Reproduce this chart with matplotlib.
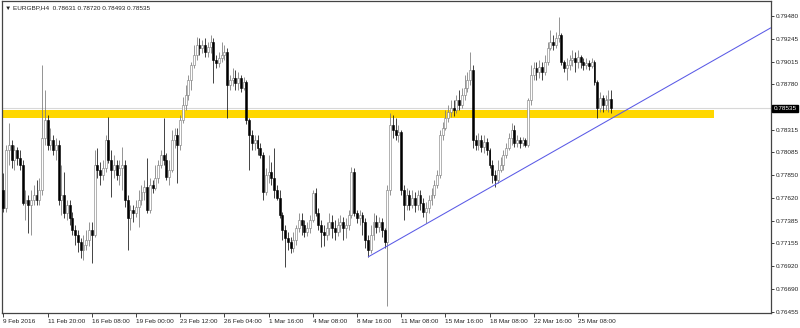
import matplotlib
matplotlib.use("Agg")
import matplotlib.pyplot as plt
import numpy as np

# EURGBP H4 candles (open of each bar = previous close)
first_open = 0.77700
closes = [
    0.77516, 0.78110, 0.78161, 0.78007, 0.78110, 0.78028, 0.77956, 0.77567, 0.77598, 0.77547,
    0.77598, 0.77649, 0.77598, 0.77700, 0.78232, 0.78416, 0.78161, 0.78212, 0.78110, 0.78161,
    0.77598, 0.77649, 0.77465, 0.77547, 0.77414, 0.77291, 0.77240, 0.77168, 0.77087, 0.77138,
    0.77189, 0.77291, 0.77240, 0.77956, 0.77905, 0.77854, 0.77925, 0.78212, 0.78007, 0.77905,
    0.77956, 0.77854, 0.77925, 0.77956, 0.77598, 0.77414, 0.77496, 0.77465, 0.77526, 0.77598,
    0.77680, 0.77731, 0.77496, 0.77751, 0.77721, 0.77823, 0.77956, 0.78058, 0.78007, 0.77833,
    0.77905, 0.78212, 0.78263, 0.78161, 0.78416, 0.78570, 0.78672, 0.78826, 0.78979, 0.79081,
    0.79184, 0.79153, 0.79184, 0.79112, 0.79163, 0.79214, 0.79030, 0.78999, 0.79051, 0.79081,
    0.79112, 0.78774, 0.78826, 0.78846, 0.78795, 0.78846, 0.78744, 0.78805, 0.78416, 0.78263,
    0.78181, 0.78212, 0.78130, 0.78058, 0.77680, 0.77854, 0.77884, 0.77823, 0.77700, 0.77619,
    0.77445, 0.77291, 0.77209, 0.77168, 0.77107, 0.77189, 0.77312, 0.77393, 0.77342, 0.77271,
    0.77312, 0.77393, 0.77670, 0.77465, 0.77342, 0.77271, 0.77240, 0.77312, 0.77373, 0.77312,
    0.77271, 0.77342, 0.77373, 0.77312, 0.77342, 0.77445, 0.77884, 0.77465, 0.77414, 0.77445,
    0.77373, 0.77189, 0.77087, 0.77240, 0.77373, 0.77322, 0.77373, 0.77291, 0.77168, 0.77700,
    0.78365, 0.78314, 0.78263, 0.78294, 0.77700, 0.77547, 0.77649, 0.77547, 0.77619, 0.77547,
    0.77649, 0.77567, 0.77475, 0.77516, 0.77598, 0.77649, 0.77751, 0.77854, 0.78263, 0.78335,
    0.78437, 0.78498, 0.78539, 0.78519, 0.78621, 0.78570, 0.78672, 0.78744, 0.78826, 0.78928,
    0.78212, 0.78161, 0.78212, 0.78140, 0.78191, 0.78110, 0.77956, 0.77854, 0.77803, 0.77905,
    0.77956, 0.78058, 0.78130, 0.78232, 0.78314, 0.78181, 0.78212, 0.78181, 0.78212, 0.78161,
    0.78621, 0.78877, 0.78948, 0.78907, 0.78959, 0.78907, 0.79010, 0.79153, 0.79214, 0.79184,
    0.79255, 0.79286, 0.79010, 0.78948, 0.78979, 0.79030, 0.79051, 0.79010, 0.79061, 0.79010,
    0.78979, 0.78999, 0.78969, 0.79010, 0.78805, 0.78539, 0.78641, 0.78570, 0.78621, 0.78631,
    0.78535,
]
highs = [
    0.77874, 0.78161, 0.78386, 0.78212, 0.78161, 0.78140, 0.78110, 0.78007, 0.77700, 0.77649,
    0.77700, 0.77751, 0.77803, 0.77823, 0.78979, 0.78723, 0.78468, 0.78335, 0.78263, 0.78232,
    0.78212, 0.77956, 0.77884, 0.77598, 0.77598, 0.77475, 0.77342, 0.77291, 0.77209, 0.77240,
    0.77291, 0.77373, 0.77373, 0.78110, 0.78130, 0.77987, 0.78007, 0.78263, 0.78447, 0.78110,
    0.78058, 0.78007, 0.78007, 0.78140, 0.78007, 0.77649, 0.77547, 0.77547, 0.77598, 0.77700,
    0.77751, 0.77803, 0.78028, 0.77823, 0.77803, 0.77956, 0.78007, 0.78110, 0.78437, 0.78079,
    0.78007, 0.78314, 0.78335, 0.78335, 0.78468, 0.78652, 0.78774, 0.78877, 0.79010, 0.79184,
    0.79266, 0.79255, 0.79235, 0.79255, 0.79214, 0.79286, 0.79255, 0.79081, 0.79112, 0.79214,
    0.79184, 0.79153, 0.78877, 0.78948, 0.78928, 0.78907, 0.78877, 0.78856, 0.78826, 0.78437,
    0.78314, 0.78263, 0.78263, 0.78181, 0.78089, 0.77925, 0.78058, 0.77987, 0.78130, 0.77751,
    0.77700, 0.77475, 0.77342, 0.77271, 0.77220, 0.77271, 0.77342, 0.77465, 0.77465, 0.77393,
    0.77373, 0.77445, 0.77700, 0.77721, 0.77516, 0.77393, 0.77342, 0.77373, 0.77465, 0.77445,
    0.77393, 0.77414, 0.77445, 0.77424, 0.77414, 0.77496, 0.77936, 0.77925, 0.77496, 0.77496,
    0.77475, 0.77414, 0.77240, 0.77342, 0.77465, 0.77445, 0.77424, 0.77414, 0.77312, 0.77751,
    0.78488, 0.78468, 0.78437, 0.78365, 0.78314, 0.77751, 0.77721, 0.77700, 0.77700, 0.77680,
    0.77700, 0.77700, 0.77619, 0.77578, 0.77649, 0.77721, 0.77803, 0.77905, 0.78314, 0.78396,
    0.78519, 0.78570, 0.78621, 0.78621, 0.78672, 0.78723, 0.78744, 0.78877, 0.78907, 0.79112,
    0.78979, 0.78263, 0.78283, 0.78263, 0.78263, 0.78232, 0.78130, 0.78007, 0.77905, 0.78007,
    0.78038, 0.78110, 0.78181, 0.78283, 0.78386, 0.78365, 0.78263, 0.78243, 0.78243, 0.78232,
    0.78641, 0.78979, 0.79010, 0.79010, 0.79030, 0.79010, 0.79081, 0.79214, 0.79337, 0.79286,
    0.79317, 0.79470, 0.79306, 0.79030, 0.79051, 0.79081, 0.79133, 0.79112, 0.79133, 0.79081,
    0.79051, 0.79051, 0.79030, 0.79051, 0.79030, 0.78826, 0.78703, 0.78672, 0.78672, 0.78723,
    0.78720,
]
lows = [
    0.77475, 0.77475, 0.77956, 0.77925, 0.77905, 0.77956, 0.77905, 0.77547, 0.77393, 0.77260,
    0.77240, 0.77547, 0.77547, 0.77547, 0.77649, 0.78161, 0.78110, 0.78110, 0.78058, 0.78007,
    0.77547, 0.77445, 0.77414, 0.77393, 0.77342, 0.77240, 0.77138, 0.77066, 0.77005, 0.76984,
    0.77087, 0.77127, 0.76954, 0.77220, 0.77823, 0.77751, 0.77803, 0.77884, 0.77977, 0.77629,
    0.77823, 0.77803, 0.77751, 0.77700, 0.77526, 0.77087, 0.77291, 0.77373, 0.77424, 0.77322,
    0.77547, 0.77598, 0.77465, 0.77465, 0.77670, 0.77700, 0.77772, 0.77925, 0.77956, 0.77803,
    0.77751, 0.77884, 0.78130, 0.77772, 0.78110, 0.78386, 0.78519, 0.78621, 0.78723, 0.78948,
    0.79030, 0.79081, 0.79102, 0.79061, 0.79061, 0.79102, 0.78795, 0.78948, 0.78959, 0.79010,
    0.79030, 0.78437, 0.78723, 0.78764, 0.78723, 0.78723, 0.78703, 0.78723, 0.78375, 0.77905,
    0.78110, 0.78110, 0.78058, 0.78028, 0.77598, 0.77649, 0.77772, 0.77751, 0.77619, 0.77598,
    0.77414, 0.77189, 0.76913, 0.77087, 0.77056, 0.77066, 0.77138, 0.77271, 0.77240, 0.77220,
    0.77230, 0.77260, 0.77373, 0.77434, 0.77291, 0.77117, 0.77127, 0.77189, 0.77240, 0.77209,
    0.77189, 0.77230, 0.77271, 0.77189, 0.77209, 0.77291, 0.77414, 0.77434, 0.77363, 0.77342,
    0.77240, 0.77107, 0.77015, 0.77056, 0.77189, 0.77260, 0.77271, 0.77220, 0.77107, 0.76514,
    0.77649, 0.78232, 0.78212, 0.78191, 0.77649, 0.77393, 0.77496, 0.77496, 0.77516, 0.77475,
    0.77496, 0.77496, 0.77424, 0.77363, 0.77465, 0.77547, 0.77619, 0.77721, 0.77823, 0.78212,
    0.78314, 0.78396, 0.78447, 0.78457, 0.78488, 0.78519, 0.78539, 0.78621, 0.78703, 0.78774,
    0.78130, 0.78110, 0.78110, 0.78089, 0.78079, 0.78058, 0.77925, 0.77772, 0.77731, 0.77772,
    0.77884, 0.77905, 0.78028, 0.78110, 0.78161, 0.78140, 0.78140, 0.78130, 0.78150, 0.78140,
    0.78140, 0.78570, 0.78826, 0.78826, 0.78846, 0.78826, 0.78877, 0.78979, 0.79133, 0.79133,
    0.79153, 0.79214, 0.78979, 0.78907, 0.78826, 0.78928, 0.78969, 0.78907, 0.78948, 0.78948,
    0.78928, 0.78938, 0.78928, 0.78948, 0.78774, 0.78437, 0.78498, 0.78498, 0.78519, 0.78498,
    0.78493,
]

# x-axis labels, one every 16 H4 bars
date_labels = ["9 Feb 2016", "11 Feb 20:00", "16 Feb 08:00", "19 Feb 00:00", "23 Feb 12:00",
               "26 Feb 04:00", "1 Mar 16:00", "4 Mar 08:00", "8 Mar 16:00", "11 Mar 08:00",
               "15 Mar 16:00", "18 Mar 08:00", "22 Mar 16:00", "25 Mar 08:00"]
label_every = 16

price_ticks = [0.79480, 0.79245, 0.79015, 0.78780, 0.78315, 0.78085, 0.77850,
               0.77620, 0.77385, 0.77155, 0.76920, 0.76690, 0.76455]

# support zone and trend line
zone_low, zone_high = 0.78440, 0.78520
zone_end_bar = 257.3
trend_bars = [132, 223]
trend_prices = [0.77015, 0.78478]

symbol = "EURGBP,H4"

plt.rcParams['font.family'] = ['Liberation Sans', 'DejaVu Sans']

opens = [first_open] + closes[:-1]
n = len(closes)
idx = np.arange(n)
o = np.array(opens)
c = np.array(closes)
h = np.array(highs)
l = np.array(lows)

fig = plt.figure(figsize=(8, 3.28), dpi=100)
ax = fig.add_axes([2 / 800, 15 / 328, 769 / 800, 312 / 328])
ax.set_xlim(-0.5, 277.9)
ax.set_ylim(0.76442, 0.79634)

# zone band (behind candles)
ax.fill_between([-0.5, zone_end_bar], zone_low, zone_high, color="#FFD700", lw=0, zorder=1)
# bid line
ax.axhline(closes[-1], color="#d8d8d8", lw=0.8, zorder=0.5)

# candles: bulls hollow/grey, bears solid black
up = c >= o
body_bottom = np.minimum(o, c)
body_h = np.maximum(np.abs(c - o), 0.00003)
ax.vlines(idx[up], l[up], h[up], color="#777777", lw=0.55, zorder=2)
ax.vlines(idx[~up], l[~up], h[~up], color="#111111", lw=0.55, zorder=2)
ax.bar(idx[up], body_h[up], bottom=body_bottom[up], width=0.7,
       color="white", edgecolor="#777777", lw=0.4, zorder=3)
ax.bar(idx[~up], body_h[~up], bottom=body_bottom[~up], width=0.7,
       color="black", edgecolor="black", lw=0.4, zorder=3)

# trend ray
slope = (trend_prices[1] - trend_prices[0]) / (trend_bars[1] - trend_bars[0])
x_end = ax.get_xlim()[1]
ax.plot([trend_bars[0], x_end], [trend_prices[0], trend_prices[0] + slope * (x_end - trend_bars[0])],
        color="#5a5ae6", lw=0.75, zorder=4, solid_capstyle="butt")

# axes styling
for s in ax.spines.values():
    s.set_color("#444444")
    s.set_linewidth(0.9)
ax.yaxis.tick_right()
ax.set_yticks(price_ticks)
ax.set_yticklabels([f"{p:.5f}" for p in price_ticks])
ax.tick_params(axis="y", direction="out", length=2.5, width=0.6, pad=1.2,
               labelsize=4.6, colors="#222222")

tick_pos = np.arange(0, label_every * len(date_labels), label_every)
ax.set_xticks(tick_pos)
ax.set_xticklabels(date_labels, ha="left")
ax.tick_params(axis="x", direction="out", length=3, width=0.6, pad=1.5,
               labelsize=4.6, colors="#222222")

# bid price box on right axis
ax.text(1.003, closes[-1], f"{closes[-1]:.5f}", transform=ax.get_yaxis_transform(),
        ha="left", va="center", fontsize=4.6, color="white",
        bbox=dict(boxstyle="square,pad=0.2", fc="black", ec="black"), zorder=10, clip_on=False)

# header line
header = "\u25bc " + symbol + "  " + " ".join(f"{v:.5f}" for v in (opens[-1], highs[-1], lows[-1], closes[-1]))
ax.text(0.004, 0.985, header, transform=ax.transAxes, ha="left", va="top",
        fontsize=4.6, color="#222222")

fig.savefig("out.png", dpi=100)
